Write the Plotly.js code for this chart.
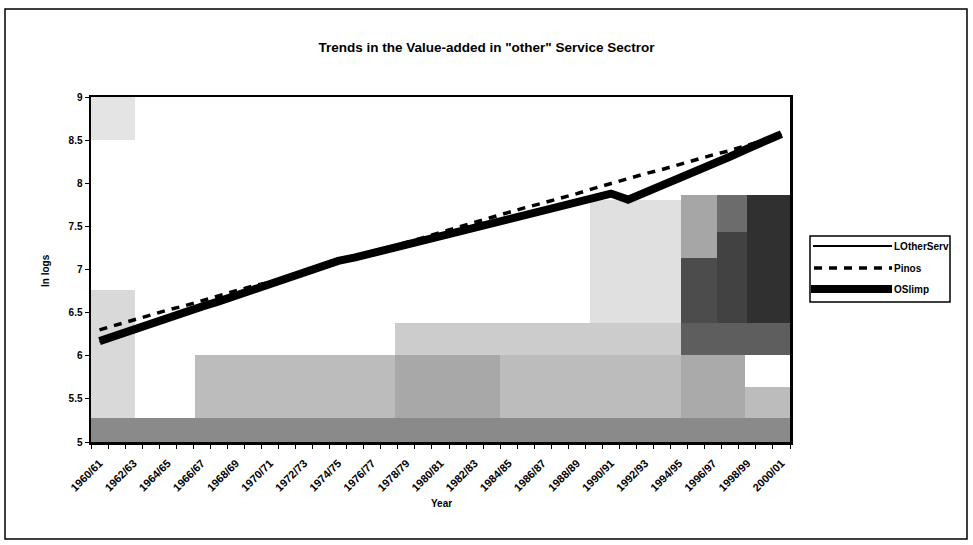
<!DOCTYPE html>
<html>
<head>
<meta charset="utf-8">
<script src="https://cdn.plot.ly/plotly-3.0.1.min.js"></script>
<style>
  html, body { margin: 0; padding: 0; background: #ffffff; }
  #chart { width: 973px; height: 545px; }
</style>
</head>
<body>
<div id="chart"></div>
<script>
// Fiscal years on the horizontal axis
const years = [
  '1960/61','1961/62','1962/63','1963/64','1964/65','1965/66','1966/67','1967/68','1968/69','1969/70',
  '1970/71','1971/72','1972/73','1973/74','1974/75','1975/76','1976/77','1977/78','1978/79','1979/80',
  '1980/81','1981/82','1982/83','1983/84','1984/85','1985/86','1986/87','1987/88','1988/89','1989/90',
  '1990/91','1991/92','1992/93','1993/94','1994/95','1995/96','1996/97','1997/98','1998/99','1999/00',
  '2000/01'
];

// Series names, in drawing order
const seriesNames = ['LOtherServ', 'Pinos', 'OSlimp'];

// Log of value-added, "other" services
const lOtherServ = [
  6.16, 6.24, 6.31, 6.37, 6.43, 6.51, 6.57, 6.64, 6.70, 6.76,
  6.84, 6.90, 6.97, 7.03, 7.09, 7.14, 7.20, 7.24, 7.28, 7.34,
  7.40, 7.44, 7.49, 7.55, 7.59, 7.64, 7.68, 7.74, 7.78, 7.84,
  7.88, 7.80, 7.88, 7.98, 8.06, 8.14, 8.22, 8.31, 8.40, 8.49,
  8.57
];

// Trend series
const pinos = [
  6.30, 6.36, 6.41, 6.47, 6.53, 6.58, 6.64, 6.70, 6.76, 6.81,
  6.85, 6.91, 6.97, 7.04, 7.10, 7.15, 7.21, 7.26, 7.31, 7.37,
  7.43, 7.49, 7.55, 7.60, 7.67, 7.72, 7.77, 7.82, 7.88, 7.94,
  8.00, 8.05, 8.11, 8.16, 8.22, 8.27, 8.33, 8.38, 8.44, 8.50,
  8.56
];

// Smoothed series
const osLimp = [
  6.17, 6.24, 6.30, 6.37, 6.44, 6.50, 6.57, 6.63, 6.70, 6.77,
  6.83, 6.90, 6.96, 7.03, 7.10, 7.14, 7.19, 7.24, 7.29, 7.34,
  7.39, 7.44, 7.49, 7.54, 7.59, 7.64, 7.69, 7.73, 7.78, 7.83,
  7.88, 7.81, 7.89, 7.97, 8.06, 8.14, 8.23, 8.31, 8.40, 8.48,
  8.57
];

const titleText = 'Trends in the Value-added in "other" Service Sectror';
const xTitle = 'Year';
const yTitle = 'In logs';

// ---- layout geometry (pixels) ----
const W = 973, H = 545;
const L = 91, R = 790, T = 97, B = 442;
const px = x => (x - L) / (R - L);
const py = y => (B - y) / (B - T);

const FONT = 'Liberation Sans, Arial, Helvetica, sans-serif';
const idx = years.map((_, i) => i);
const labelIdx = idx.filter(i => i % 2 === 0);

const traces = [
  { x: idx, y: lOtherServ, name: seriesNames[0], type: 'scatter', mode: 'lines',
    line: { color: '#000000', width: 2 } },
  { x: idx, y: pinos, name: seriesNames[1], type: 'scatter', mode: 'lines',
    line: { color: '#000000', width: 3.5, dash: '8px,7px' } },
  { x: idx, y: osLimp, name: seriesNames[2], type: 'scatter', mode: 'lines',
    line: { color: '#000000', width: 8 } }
];

// Grey print tones behind the plot
function tone(x0, y0, x1, y1, color) {
  return { type: 'rect', xref: 'paper', yref: 'paper', layer: 'below',
    x0: px(x0), x1: px(x1), y0: py(y1), y1: py(y0),
    fillcolor: color, line: { width: 0 } };
}
const tones = [
  tone(91, 97, 135, 140, '#e4e4e4'),
  tone(91, 290, 135, 418, '#d9d9d9'),
  tone(195, 355, 790, 418, '#bcbcbc'),
  tone(395, 355, 500, 418, '#a8a8a8'),
  tone(395, 323, 681, 355, '#cccccc'),
  tone(590, 200, 681, 323, '#e0e0e0'),
  tone(681, 355, 745, 418, '#aaaaaa'),
  tone(681, 195, 717, 258, '#a6a6a6'),
  tone(681, 258, 717, 355, '#4c4c4c'),
  tone(717, 195, 747, 232, '#6c6c6c'),
  tone(717, 232, 747, 355, '#424242'),
  tone(747, 195, 790, 355, '#303030'),
  tone(681, 323, 790, 355, '#5e5e5e'),
  tone(745, 355, 790, 387, '#ffffff'),
  tone(91, 418, 790, 442, '#8a8a8a')
];

// Hand-drawn legend box
const legendRows = [246, 268, 289];
const legendShapes = [
  { type: 'rect', xref: 'paper', yref: 'paper', x0: px(810), x1: px(950), y0: py(302), y1: py(236),
    fillcolor: '#ffffff', line: { color: '#000000', width: 1.5 } },
  { type: 'line', xref: 'paper', yref: 'paper', x0: px(813), x1: px(892), y0: py(legendRows[0]), y1: py(legendRows[0]),
    line: { color: '#000000', width: 2 } },
  { type: 'line', xref: 'paper', yref: 'paper', x0: px(814), x1: px(892), y0: py(legendRows[1]), y1: py(legendRows[1]),
    line: { color: '#000000', width: 3.5, dash: '8px,7px' } },
  { type: 'line', xref: 'paper', yref: 'paper', x0: px(811), x1: px(892), y0: py(legendRows[2]), y1: py(legendRows[2]),
    line: { color: '#000000', width: 8 } }
];
const legendLabels = seriesNames.map((n, k) => ({
  xref: 'paper', yref: 'paper', x: px(892), y: py(legendRows[k]),
  xanchor: 'left', yanchor: 'middle', showarrow: false, text: '<b>' + n + '</b>',
  font: { family: FONT, size: 10, color: '#000000' }
}));

// Outer chart frame
const frame = { type: 'rect', xref: 'paper', yref: 'paper',
  x0: px(5), x1: px(967), y0: py(539), y1: py(9),
  line: { color: '#000000', width: 1.5 }, fillcolor: 'rgba(0,0,0,0)', layer: 'above' };

const layout = {
  width: W, height: H,
  margin: { l: L, r: W - R, t: T, b: H - B, pad: 0 },
  paper_bgcolor: '#ffffff',
  plot_bgcolor: 'rgba(0,0,0,0)',
  showlegend: false,
  title: { text: '<b>' + titleText + '</b>', x: 0.5, xref: 'container', xanchor: 'center',
    y: 1 - 47 / H, yref: 'container', yanchor: 'middle',
    font: { family: FONT, size: 13.5, color: '#000000' } },
  xaxis: {
    type: 'linear', range: [-0.5, years.length - 0.5], fixedrange: true,
    tickmode: 'array', tickvals: labelIdx, ticktext: labelIdx.map(i => years[i]),
    tickangle: -45, ticks: '', ticklabelstandoff: 8,
    tickfont: { family: FONT, size: 11, color: '#000000', weight: 'bold' },
    minor: { tick0: 0.5, dtick: 1, ticks: 'outside', ticklen: 4, tickwidth: 1, tickcolor: '#000000', showgrid: false },
    showgrid: false, zeroline: false,
    showline: true, mirror: true, linecolor: '#000000', linewidth: 2.5
  },
  yaxis: {
    range: [5, 9], dtick: 0.5, tick0: 5, fixedrange: true,
    ticks: 'outside', ticklen: 4, tickwidth: 1, tickcolor: '#000000',
    tickfont: { family: FONT, size: 10, color: '#000000', weight: 'bold' },
    showgrid: false, zeroline: false,
    showline: true, mirror: true, linecolor: '#000000', linewidth: 2.5
  },
  shapes: tones.concat(legendShapes, [frame]),
  annotations: [
    { xref: 'paper', yref: 'paper', x: px(441), y: py(503), xanchor: 'center', yanchor: 'middle',
      showarrow: false, text: '<b>' + xTitle + '</b>', font: { family: FONT, size: 10, color: '#000000' } },
    { xref: 'paper', yref: 'paper', x: px(45), y: py(270), xanchor: 'center', yanchor: 'middle',
      showarrow: false, textangle: -90, text: '<b>' + yTitle + '</b>', font: { family: FONT, size: 10, color: '#000000' } }
  ].concat(legendLabels)
};

Plotly.newPlot('chart', traces, layout, { displayModeBar: false, staticPlot: true });
</script>
</body>
</html>
